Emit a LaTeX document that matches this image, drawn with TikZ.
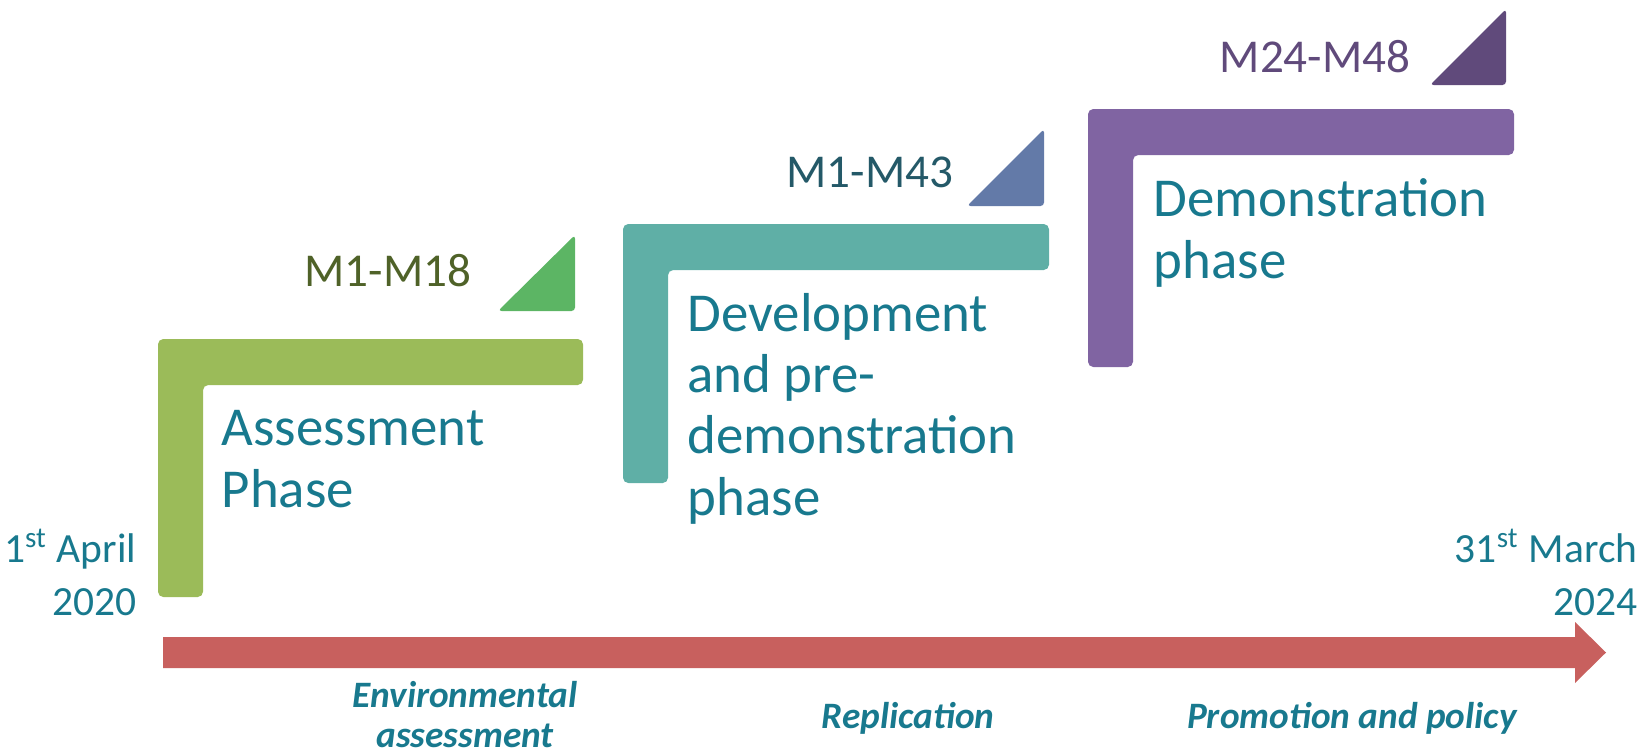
\documentclass[tikz,border=0pt]{standalone}
\usepackage{fontspec}
\setmainfont{Carlito}

\definecolor{grnbar}{RGB}{155,187,89}
\definecolor{grntri}{RGB}{92,181,100}
\definecolor{grntxt}{RGB}{79,98,40}
\definecolor{tealbar}{RGB}{95,175,166}
\definecolor{tealtri}{RGB}{99,122,168}
\definecolor{tealtxt}{RGB}{36,89,104}
\definecolor{purpbar}{RGB}{128,100,162}
\definecolor{purptri}{RGB}{96,74,123}
\definecolor{phasetxt}{RGB}{24,121,142}
\definecolor{arrowred}{RGB}{200,96,94}

% multi-line nodes sit on the baseline of their last line
\tikzset{
  phase/.style={anchor=base west,align=left,inner sep=0pt,text=phasetxt,
    font=\fontsize{15.6}{17.4}\selectfont},
  months/.style={anchor=base east,inner sep=0pt,font=\fontsize{13.4}{15}\selectfont},
  dates/.style={anchor=base east,align=right,inner sep=0pt,text=phasetxt,
    font=\fontsize{11.8}{14.8}\selectfont},
  tasks/.style={anchor=base,align=center,inner sep=0pt,text=phasetxt,
    font=\fontsize{10.6}{11.1}\selectfont\bfseries\itshape}
}

\begin{document}
\begin{tikzpicture}[x=0.01cm,y=-0.01cm]
  \useasboundingbox (0,0) rectangle (1645,754);

  % L-shaped phase brackets
  \foreach \col/\l/\t/\r/\b in
{{grnbar/158/339/583/597},{tealbar/623/224/1049/483},{purpbar/1088/109/1514/367}}
    \fill[\col,rounded corners=1.5pt] (\l,\t) -- (\r,\t) -- (\r,\t+46)
      -- (\l+45,\t+46) -- (\l+45,\b) -- (\l,\b) -- cycle;

  % corner triangles
  \foreach \col/\xa/\xb/\ya/\yb in
{{grntri/498/575/235/311},{tealtri/967/1044/129/206},{purptri/1430/1506/9/85}}
    \fill[\col,rounded corners=1pt] (\xa,\yb) -- (\xb,\yb) -- (\xb,\ya) -- cycle;

  % timeline arrow
  \fill[arrowred] (163,637) -- (1575,637) -- (1575,622) -- (1606,652.5)
    -- (1575,683) -- (1575,668) -- (163,668) -- cycle;

  % month ranges
  \node[months,text=grntxt] (mA) at (472,286) {M1-M18};
  \node[months,text=tealtxt] (mB) at (954,187) {M1-M43};
  \node[months,text=purptri] (mC) at (1411,72) {M24-M48};

  % phase names
  \node[phase] (assess) at (221,507) {Assessment\\Phase};
  \node[phase] (develop) at (687,515) {Development\\and pre-\\demonstration\\phase};
  \node[phase] (demo) at (1153,278) {Demonstration\\phase};

  % start and end dates
  \node[dates] (start) at (137,615) {1\textsuperscript{st} April\\2020};
  \node[dates] (finish) at (1638,615) {31\textsuperscript{st} March\\2024};

  % work streams
  \node[tasks] (env) at (465,747) {Environmental\\assessment};
  \node[tasks] (repl) at (908,728) {Replication};
  \node[tasks] (promo) at (1352,728) {Promotion and policy};
\end{tikzpicture}
\end{document}
